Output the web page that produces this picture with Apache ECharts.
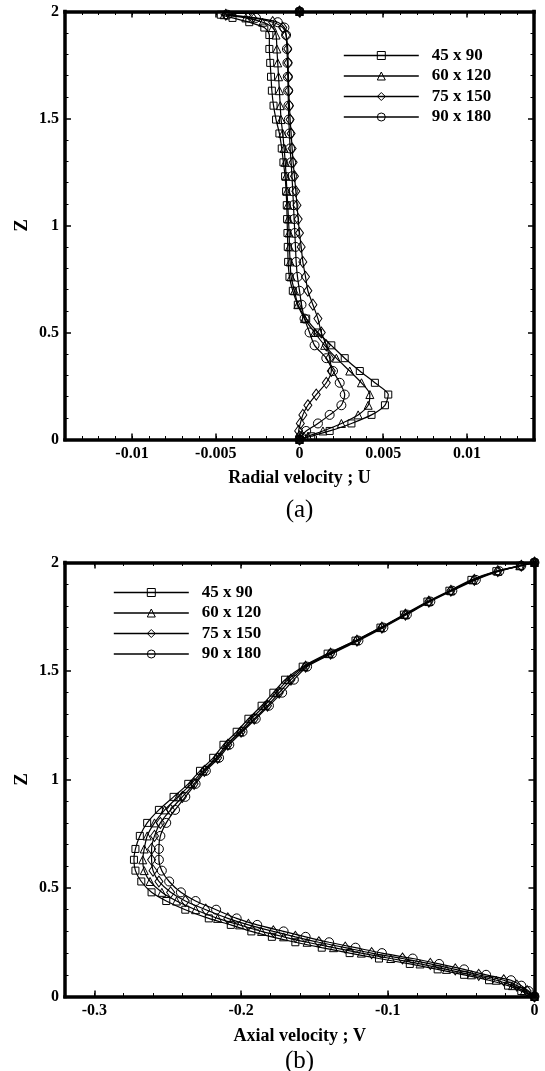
<!DOCTYPE html>
<html>
<head>
<meta charset="utf-8">
<script src="https://cdn.jsdelivr.net/npm/echarts@6/dist/echarts.min.js"></script>
<style>
    html, body { margin: 0; padding: 0; background: #fff; }
    #chart { width: 545px; height: 1071px; }
</style>
</head>
<body>
<div id="chart"></div>
<script>
    // mesh resolutions, one curve each
    const meshNames = ['45 x 90', '60 x 120', '75 x 150', '90 x 180'];
    const meshSymbols = ['rect', 'triangle', 'diamond', 'circle'];

    // (a) radial velocity U against height Z
    const zRadial = [2, 1.985, 1.97, 1.95, 1.925, 1.89, 1.825, 1.76, 1.695, 1.63,
        1.56, 1.495, 1.43, 1.36, 1.295, 1.23, 1.16, 1.095, 1.03, 0.965,
        0.9, 0.83, 0.76, 0.695, 0.63, 0.565, 0.5, 0.44, 0.38, 0.32,
        0.265, 0.21, 0.16, 0.115, 0.075, 0.04, 0.015, 0];
    const uMesh45 = [0, -0.0047, -0.0040, -0.0030, -0.0021, -0.0018, -0.0018, -0.00175, -0.0017, -0.00165,
        -0.00155, -0.0014, -0.0012, -0.00106, -0.00096, -0.00086, -0.0008, -0.00076, -0.00074, -0.00072,
        -0.0007, -0.00068, -0.0006, -0.0004, -0.0001, 0.0004, 0.0011, 0.0019, 0.0027, 0.0036,
        0.0045, 0.0053, 0.0051, 0.0043, 0.0031, 0.0018, 0.0007, 0];
    const uMesh60 = [0, -0.0045, -0.0032, -0.0022, -0.0016, -0.0014, -0.00135, -0.0013, -0.00125, -0.0012,
        -0.00115, -0.0011, -0.001, -0.00092, -0.00085, -0.0008, -0.00075, -0.0007, -0.00066, -0.00062,
        -0.0006, -0.00056, -0.0005, -0.0003, -0.0001, 0.0003, 0.0009, 0.0015, 0.0022, 0.003,
        0.0037, 0.0042, 0.0041, 0.0035, 0.0025, 0.0014, 0.0005, 0];
    const uMesh75 = [0, -0.0044, -0.0028, -0.0016, -0.001, -0.0008, -0.0007, -0.00068, -0.00066, -0.00064,
        -0.0006, -0.00056, -0.0005, -0.00044, -0.00038, -0.0003, -0.00022, -0.00015, -0.00008, 0,
        0.0001, 0.0002, 0.00036, 0.0005, 0.0008, 0.0011, 0.0013, 0.0016, 0.0018, 0.0019,
        0.0016, 0.001, 0.0005, 0.0002, 0.00005, -0.00005, 0, 0];
    const uMesh90 = [0, -0.0043, -0.0026, -0.0013, -0.0009, -0.0008, -0.00075, -0.00072, -0.0007, -0.00068,
        -0.00066, -0.00064, -0.0006, -0.00056, -0.0005, -0.00045, -0.0004, -0.00036, -0.00032, -0.00028,
        -0.00024, -0.0002, -0.00012, 0, 0.00012, 0.0003, 0.0006, 0.0009, 0.0016, 0.002,
        0.0024, 0.0027, 0.0025, 0.0018, 0.0011, 0.0004, 0.0001, 0];

    // (b) axial velocity V against height Z
    const zAxial = [0, 0.025, 0.05, 0.075, 0.1, 0.125, 0.15, 0.175, 0.2, 0.225,
        0.25, 0.275, 0.3, 0.33, 0.36, 0.4, 0.44, 0.48, 0.53, 0.58,
        0.63, 0.68, 0.74, 0.8, 0.86, 0.92, 0.98, 1.04, 1.1, 1.16,
        1.22, 1.28, 1.34, 1.4, 1.46, 1.52, 1.58, 1.64, 1.7, 1.76,
        1.82, 1.87, 1.92, 1.96, 1.985, 2];
    const vMesh45 = [0, -0.009, -0.018, -0.031, -0.048, -0.066, -0.085, -0.106, -0.126, -0.145,
        -0.163, -0.179, -0.193, -0.207, -0.222, -0.238, -0.251, -0.261, -0.268, -0.272,
        -0.273, -0.272, -0.269, -0.264, -0.256, -0.246, -0.236, -0.228, -0.219, -0.212,
        -0.203, -0.195, -0.186, -0.178, -0.170, -0.158, -0.141, -0.122, -0.105, -0.089,
        -0.073, -0.058, -0.043, -0.026, -0.01, 0];
    const vMesh60 = [0, -0.007, -0.015, -0.026, -0.043, -0.06, -0.078, -0.098, -0.118, -0.137,
        -0.155, -0.171, -0.186, -0.201, -0.216, -0.231, -0.244, -0.254, -0.262, -0.266,
        -0.267, -0.266, -0.264, -0.259, -0.252, -0.243, -0.234, -0.226, -0.217, -0.21,
        -0.201, -0.193, -0.184, -0.176, -0.168, -0.157, -0.14, -0.122, -0.105, -0.088,
        -0.072, -0.057, -0.042, -0.025, -0.01, 0];
    const vMesh75 = [0, -0.005, -0.012, -0.021, -0.038, -0.054, -0.071, -0.09, -0.111, -0.129,
        -0.147, -0.163, -0.178, -0.195, -0.209, -0.224, -0.238, -0.248, -0.256, -0.26,
        -0.261, -0.261, -0.259, -0.255, -0.248, -0.24, -0.232, -0.225, -0.216, -0.209,
        -0.2, -0.191, -0.182, -0.174, -0.166, -0.156, -0.139, -0.121, -0.104, -0.088,
        -0.072, -0.057, -0.041, -0.025, -0.009, 0];
    const vMesh90 = [0, -0.004, -0.009, -0.016, -0.033, -0.048, -0.065, -0.083, -0.104, -0.122,
        -0.14, -0.156, -0.171, -0.189, -0.203, -0.217, -0.231, -0.241, -0.249, -0.254,
        -0.256, -0.256, -0.255, -0.251, -0.245, -0.238, -0.231, -0.224, -0.215, -0.208,
        -0.199, -0.19, -0.181, -0.172, -0.164, -0.155, -0.138, -0.12, -0.103, -0.087,
        -0.071, -0.056, -0.04, -0.024, -0.009, 0];

    // wall points drawn as solid dots
    const wallDots = [[0, 0], [0, 2]];

    // tick labels
    const radialTicks = [-0.01, -0.005, 0, 0.005, 0.01];
    const axialTicks = [-0.3, -0.2, -0.1, 0];
    const zTicks = [0, 0.5, 1, 1.5, 2];

    const FONT = 'Liberation Serif';
    const labelStyle = { fontFamily: FONT, fontWeight: 'bold', fontSize: 16, color: '#000' };
    const frameLine = { show: true, onZero: false, lineStyle: { color: '#000', width: 3.5, cap: 'square' } };

    function minorList(min, max, step) {
        const out = [];
        const n = Math.round((max - min) / step);
        for (let i = 0; i <= n; i++) out.push(+(min + i * step).toFixed(6));
        return out;
    }

    // four horizontal axes per panel: bottom/top, long and short ticks
    function xAxesFor(grid, min, max, major, minorStep, name, gap) {
        const minor = minorList(min, max, minorStep);
        const base = { type: 'value', gridIndex: grid, min: min, max: max, splitLine: { show: false } };
        return [
            Object.assign({}, base, {
                position: 'bottom', axisLine: frameLine,
                axisTick: { inside: true, length: 6, customValues: major, lineStyle: { color: '#000', width: 1.5 } },
                axisLabel: Object.assign({ customValues: major, margin: 6 }, labelStyle),
                name: name, nameLocation: 'middle', nameGap: gap, nameMoveOverlap: false,
                nameTextStyle: { fontFamily: FONT, fontWeight: 'bold', fontSize: 18, color: '#000' }
            }),
            Object.assign({}, base, {
                position: 'bottom', axisLine: { show: false, onZero: false }, axisLabel: { show: false },
                axisTick: { inside: true, length: 3.5, customValues: minor, lineStyle: { color: '#000', width: 1 } }
            }),
            Object.assign({}, base, {
                position: 'top', axisLine: frameLine, axisLabel: { show: false },
                axisTick: { inside: true, length: 6, customValues: major, lineStyle: { color: '#000', width: 1.5 } }
            }),
            Object.assign({}, base, {
                position: 'top', axisLine: { show: false, onZero: false }, axisLabel: { show: false },
                axisTick: { inside: true, length: 3.5, customValues: minor, lineStyle: { color: '#000', width: 1 } }
            })
        ];
    }

    function yAxesFor(grid) {
        const base = {
            type: 'value', gridIndex: grid, min: 0, max: 2, interval: 0.5,
            splitLine: { show: false }, axisLine: frameLine,
            axisTick: { inside: true, length: 6, lineStyle: { color: '#000', width: 1.5 } },
            minorTick: { show: true, splitNumber: 5, length: 3.5, lineStyle: { color: '#000', width: 1 } }
        };
        return [
            Object.assign({}, base, {
                position: 'left',
                axisLabel: Object.assign({ customValues: zTicks, margin: 6 }, labelStyle),
                name: 'Z', nameLocation: 'middle', nameRotate: 90, nameGap: 33, nameMoveOverlap: false,
                nameTextStyle: { fontFamily: FONT, fontWeight: 'bold', fontSize: 19, color: '#000' }
            }),
            Object.assign({}, base, { position: 'right', axisLabel: { show: false } })
        ];
    }

    function meshSeries(xs, zs, idx, xAxisIndex, yAxisIndex) {
        const sizes = [7, 8, [8, 11], 9];
        return {
            type: 'line',
            name: meshNames[idx],
            xAxisIndex: xAxisIndex,
            yAxisIndex: yAxisIndex,
            data: zs.map((z, i) => [xs[i], z]),
            smooth: 0.25,
            symbol: meshSymbols[idx],
            symbolSize: sizes[idx],
            showSymbol: true,
            clip: false,
            lineStyle: { color: '#000', width: 1.2 },
            itemStyle: { color: 'rgba(255,255,255,0)', borderColor: '#000', borderWidth: 1 },
            emphasis: { disabled: true },
            silent: true
        };
    }

    function dotSeries(xAxisIndex, yAxisIndex) {
        return {
            type: 'scatter', xAxisIndex: xAxisIndex, yAxisIndex: yAxisIndex,
            data: wallDots, symbol: 'circle', symbolSize: 9, clip: false, z: 5,
            itemStyle: { color: '#000' }, silent: true
        };
    }

    function legendAt(left, top) {
        return {
            data: meshNames, orient: 'vertical', left: left, top: top, padding: 0,
            itemWidth: 75, itemHeight: 10, itemGap: 3.5,
            lineStyle: { width: 1.6, color: '#000' },
            itemStyle: { color: 'rgba(255,255,255,0)', borderColor: '#000', borderWidth: 1 },
            textStyle: { fontFamily: FONT, fontWeight: 'bold', fontSize: 17, lineHeight: 17, color: '#000', padding: [0, 0, 0, 8] },
            selectedMode: false
        };
    }

    const radialData = [uMesh45, uMesh60, uMesh75, uMesh90];
    const axialData = [vMesh45, vMesh60, vMesh75, vMesh90];

    const chart = echarts.init(document.getElementById('chart'), null, { renderer: 'canvas' });
    chart.setOption({
        animation: false,
        backgroundColor: '#fff',
        grid: [
            { left: 65, right: 11, top: 11.5, height: 428, outerBoundsMode: 'none' },
            { left: 65, right: 10.5, top: 562.5, height: 434, outerBoundsMode: 'none' }
        ],
        xAxis: xAxesFor(0, -0.014, 0.014, radialTicks, 0.001, 'Radial velocity ; U', 29.5)
            .concat(xAxesFor(1, -0.32, 0, axialTicks, 0.02, 'Axial velocity ; V', 30.5)),
        yAxis: yAxesFor(0).concat(yAxesFor(1)),
        legend: [legendAt(343, 47), legendAt(113, 584)],
        graphic: [
            { type: 'text', x: 299.5, y: 510, style: { text: '(a)', align: 'center', verticalAlign: 'middle', font: '25px "Liberation Serif"', fill: '#000' } },
            { type: 'text', x: 299.5, y: 1061, style: { text: '(b)', align: 'center', verticalAlign: 'middle', font: '25px "Liberation Serif"', fill: '#000' } }
        ],
        series: radialData.map((xs, i) => meshSeries(xs, zRadial, i, 0, 0))
            .concat([dotSeries(0, 0)])
            .concat(axialData.map((xs, i) => meshSeries(xs, zAxial, i, 4, 2)))
            .concat([dotSeries(4, 2)])
    });
</script>
</body>
</html>
